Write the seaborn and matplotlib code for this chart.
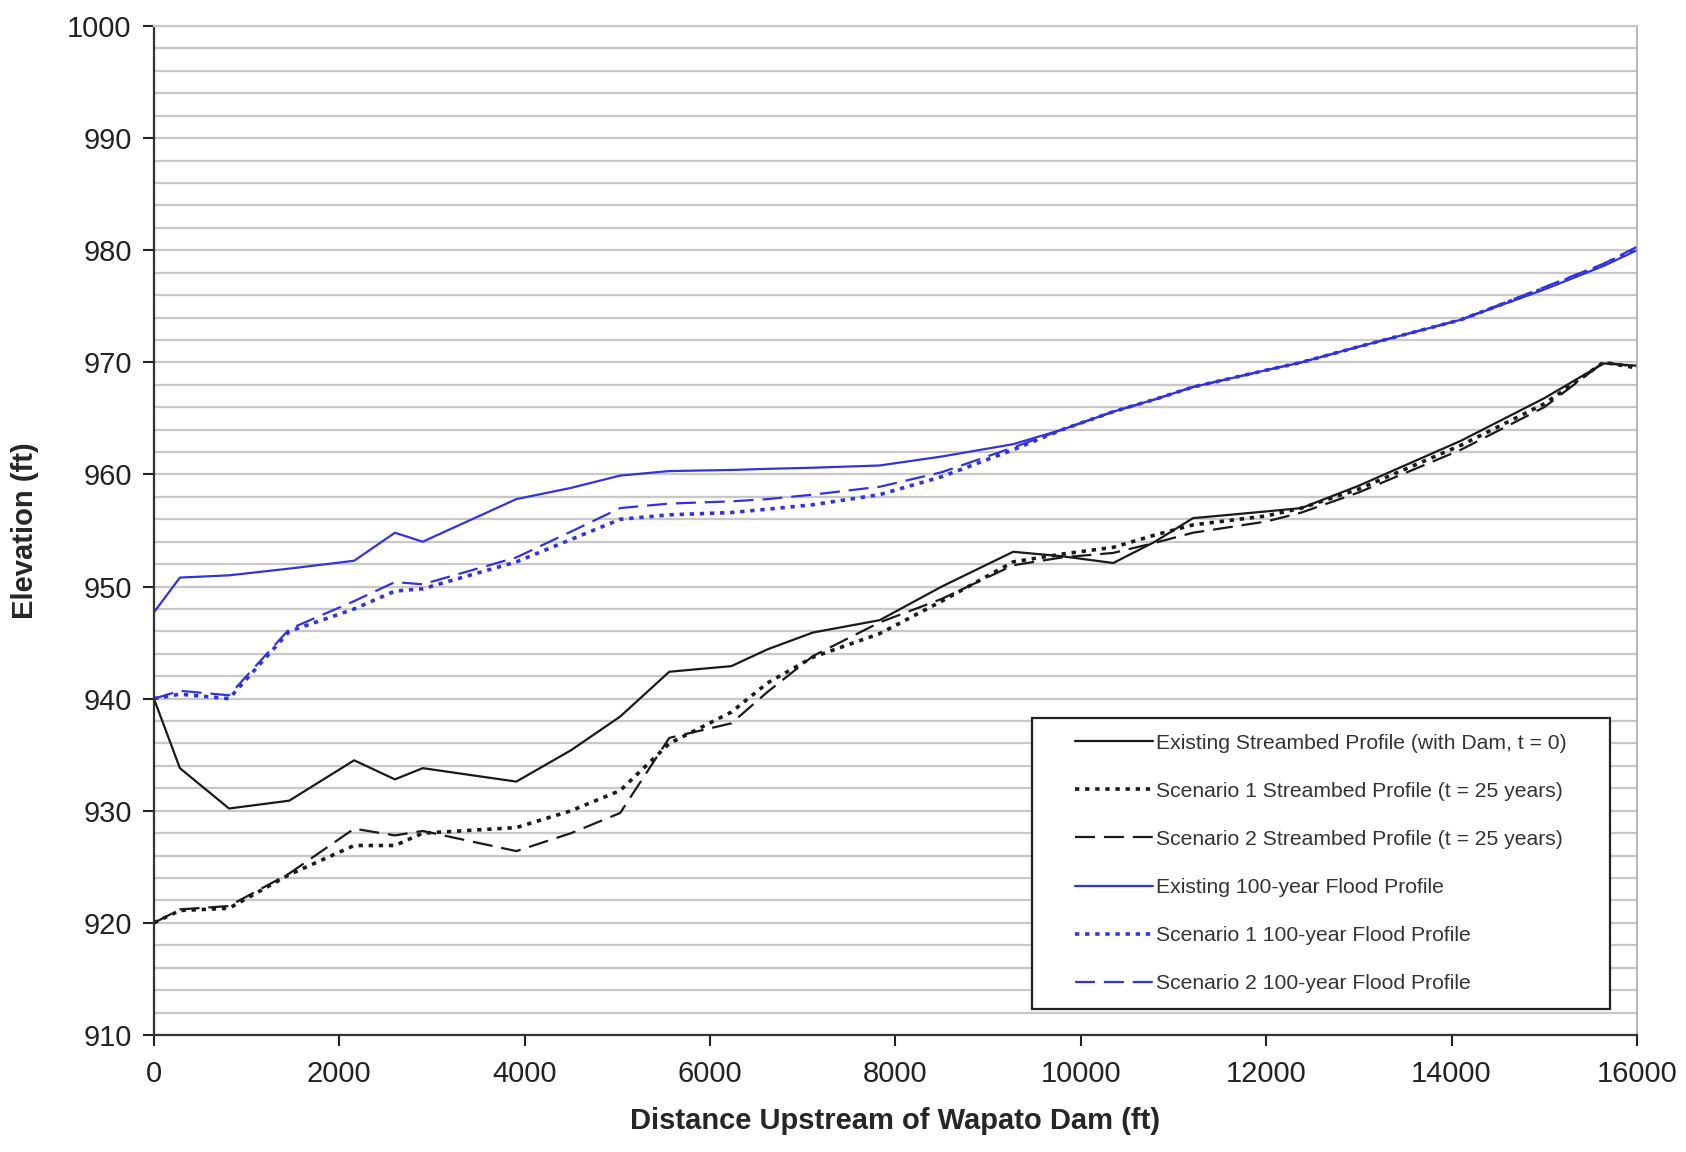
import numpy as np
import pandas as pd
import matplotlib
matplotlib.use('Agg')
import matplotlib.pyplot as plt
from matplotlib.patches import Rectangle
import seaborn as sns

# cross-section stations (ft upstream of dam)
stations = [0, 280, 810, 1460, 2160, 2600, 2900, 3910, 4500, 5030, 5560, 6230, 6620, 7110,
            7830, 8500, 9270, 9800, 10350, 10800, 11210, 12000, 12380, 13000, 14100, 15000,
            15640, 16000]

existing_bed = [940.0, 933.8, 930.2, 930.9, 934.5, 932.8, 933.8, 932.6, 935.4, 938.4, 942.4,
                942.9, 944.4, 945.9, 947.0, 950.0, 953.1, 952.7, 952.1, 954.0, 956.1, 956.7,
                957.0, 959.0, 963.0, 966.8, 969.9, 969.7]
scen1_bed = [920.0, 921.1, 921.3, 924.3, 926.9, 926.9, 928.0, 928.5, 930.0, 931.8, 936.0,
             938.8, 941.4, 943.7, 945.8, 948.7, 952.2, 952.9, 953.5, 954.6, 955.5, 956.3,
             957.0, 958.7, 962.6, 966.3, 970.0, 969.5]
scen2_bed = [920.0, 921.2, 921.5, 924.4, 928.4, 927.8, 928.2, 926.4, 928.0, 929.8, 936.5,
             937.8, 940.6, 943.8, 946.8, 948.9, 951.9, 952.6, 953.0, 953.9, 954.8, 955.8,
             956.6, 958.4, 962.2, 966.0, 970.0, 969.6]
existing_flood = [947.7, 950.8, 951.0, 951.6, 952.3, 954.8, 954.0, 957.8, 958.8, 959.9, 960.3,
                  960.4, 960.5, 960.6, 960.8, 961.6, 962.7, 964.0, 965.6, 966.7, 967.8, 969.3,
                  970.0, 971.4, 973.8, 976.5, 978.6, 980.0]
scen1_flood = [940.0, 940.4, 940.0, 946.0, 948.0, 949.6, 949.8, 952.2, 954.2, 956.0, 956.4,
               956.6, 956.9, 957.3, 958.2, 959.8, 962.2, 964.0, 965.6, 966.7, 967.8, 969.3,
               970.0, 971.4, 973.8, 976.6, 978.7, 980.2]
scen2_flood = [940.0, 940.7, 940.3, 946.2, 948.7, 950.4, 950.2, 952.6, 954.9, 957.0, 957.4,
               957.6, 957.8, 958.2, 958.9, 960.2, 962.4, 964.0, 965.6, 966.7, 967.8, 969.3,
               970.0, 971.4, 973.8, 976.7, 978.8, 980.3]

labels = ['Existing Streambed Profile (with Dam, t = 0)',
          'Scenario 1 Streambed Profile (t = 25 years)',
          'Scenario 2 Streambed Profile (t = 25 years)',
          'Existing 100-year Flood Profile',
          'Scenario 1 100-year Flood Profile',
          'Scenario 2 100-year Flood Profile']

BLUE = '#3333dd'
styles = [
    dict(color='#1a1a1a', lw=1.6, ls='-'),
    dict(color='#1a1a1a', lw=2.6, ls=(0, (1.2, 1.6))),
    dict(color='#1a1a1a', lw=1.6, ls=(0, (9, 4))),
    dict(color=BLUE, lw=1.6, ls='-'),
    dict(color=BLUE, lw=2.6, ls=(0, (1.2, 1.6))),
    dict(color=BLUE, lw=1.6, ls=(0, (9, 4))),
]
series = [existing_bed, scen1_bed, scen2_bed, existing_flood, scen1_flood, scen2_flood]

sns.set_style('white')
plt.rcParams['font.family'] = ['Liberation Sans', 'DejaVu Sans']

fig = plt.figure(figsize=(16.86, 11.52), dpi=100)
ax = fig.add_axes([0.0913, 0.1016, 0.8796, 0.8758])

for vals, lab, st in zip(series, labels, styles):
    sns.lineplot(x=stations, y=vals, ax=ax, label=lab, color=st['color'],
                 linewidth=st['lw'], linestyle=st['ls'], estimator=None, sort=False)

ax.set_xlim(0, 16000)
ax.set_ylim(910, 1000)
ax.set_xticks(np.arange(0, 16001, 2000))
ax.set_yticks(np.arange(910, 1001, 10))
ax.set_yticks(np.arange(910, 1001, 2), minor=True)
ax.grid(axis='y', which='both', color='#c8c8c8', linewidth=1.6)
ax.grid(axis='x', visible=False)
ax.set_axisbelow(True)

ax.tick_params(axis='both', which='major', labelsize=21, length=8, width=1.5,
               direction='out', colors='#222222', left=True, bottom=True)
ax.tick_params(axis='y', which='minor', left=False)
ax.tick_params(axis='y', pad=8)
ax.tick_params(axis='x', pad=10)

for side in ['left', 'bottom']:
    ax.spines[side].set_color('#333333')
    ax.spines[side].set_linewidth(1.6)
ax.spines['top'].set_color('#c8c8c8')
ax.spines['top'].set_linewidth(1.6)
ax.spines['right'].set_color('#aaaaaa')
ax.spines['right'].set_linewidth(1.2)

ax.set_xlabel('Distance Upstream of Wapato Dam (ft)', fontsize=21, fontweight='bold',
              labelpad=14)
ax.set_ylabel('Elevation (ft)', fontsize=21, fontweight='bold', labelpad=20)

# legend box drawn separately so the inner padding can differ left/right vs top/bottom
box = Rectangle((0.592, 0.026), 0.390, 0.288, transform=ax.transAxes, facecolor='white',
                edgecolor='#222222', linewidth=1.6, zorder=4)
ax.add_patch(box)
leg = ax.legend(loc='center left', bbox_to_anchor=(0.621, 0.170), fontsize=15.2,
                frameon=False, handlelength=3.7, labelspacing=1.38, borderpad=0,
                handletextpad=0.15, borderaxespad=0)
leg.set_zorder(5)
for t in leg.get_texts():
    t.set_color('#333333')

fig.savefig('out.png', dpi=100)
